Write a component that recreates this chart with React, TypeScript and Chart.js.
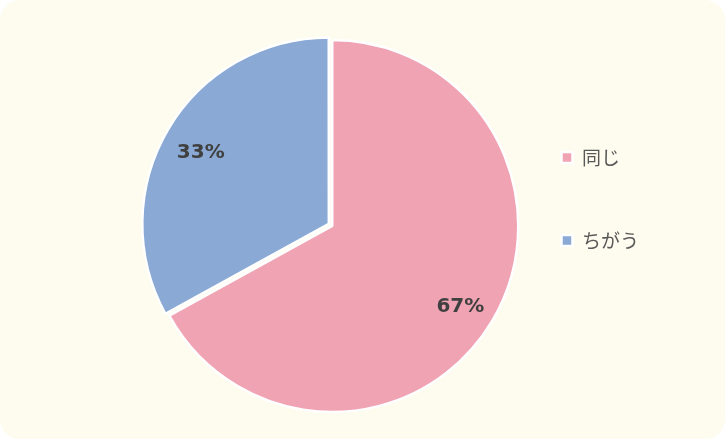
import React, { useEffect, useRef } from "react";
import { Chart, registerables } from "chart.js";

Chart.register(...registerables);

const categories = ["同じ", "ちがう"];
const values = [67, 33];
const sliceColors = ["#F0A3B3", "#8AA9D4"];
const sliceOffsets = [0, 16];

const pieLabels = {
  id: "pieLabels",
  afterDatasetsDraw(chart: any) {
    const ctx = chart.ctx;
    const meta = chart.getDatasetMeta(0);
    const data = chart.data.datasets[0].data as number[];
    const total = data.reduce((a, b) => a + b, 0);
    ctx.save();
    ctx.font = "bold 20px 'DejaVu Sans'";
    ctx.fillStyle = "#404040";
    ctx.textAlign = "center";
    ctx.textBaseline = "middle";
    meta.data.forEach((arc: any, i: number) => {
      const p = arc.getProps(["x", "y", "startAngle", "endAngle", "outerRadius"], true);
      const mid = (p.startAngle + p.endAngle) / 2;
      const off = (sliceOffsets[i] || 0) / 4;
      const d = p.outerRadius * 0.8 + off;
      const x = p.x + Math.cos(mid) * d;
      const y = p.y + Math.sin(mid) * d + 5;
      ctx.fillText(Math.round((data[i] / total) * 100) + "%", x, y);
    });
    ctx.restore();
  },
};

export default function App() {
  const ref = useRef<HTMLCanvasElement>(null);
  useEffect(() => {
    if (!ref.current) return;
    const chart = new Chart(ref.current, {
      type: "pie",
      data: {
        labels: categories,
        datasets: [
          {
            data: values,
            backgroundColor: sliceColors,
            borderColor: "#FFFFFF",
            borderWidth: 2.5,
            offset: sliceOffsets,
            radius: 186,
            clip: false,
          } as any,
        ],
      },
      options: {
        animation: false,
        responsive: false,
        events: [],
        layout: { padding: { top: 35, bottom: 22, left: 167, right: 76 } },
        plugins: {
          tooltip: { enabled: false },
          legend: {
            position: "right",
            align: "start",
            title: {
              display: true,
              text: "",
              font: { size: 10, lineHeight: 1 },
              padding: { top: 0, bottom: 39 },
            },
            labels: {
              boxWidth: 11,
              boxHeight: 11,
              padding: 64,
              color: "#595959",
              font: { family: "'Noto Sans CJK JP'", size: 19 },
            },
          },
        },
      },
      plugins: [pieLabels],
    });
    return () => chart.destroy();
  }, []);
  return (
    <div
      style={{
        position: "absolute",
        left: 0,
        top: 0,
        width: 725,
        height: 439,
        background: "#FEFCEE",
        borderRadius: 20,
        overflow: "hidden",
      }}
    >
      <canvas ref={ref} width={725} height={439} style={{ display: "block" }} />
    </div>
  );
}
